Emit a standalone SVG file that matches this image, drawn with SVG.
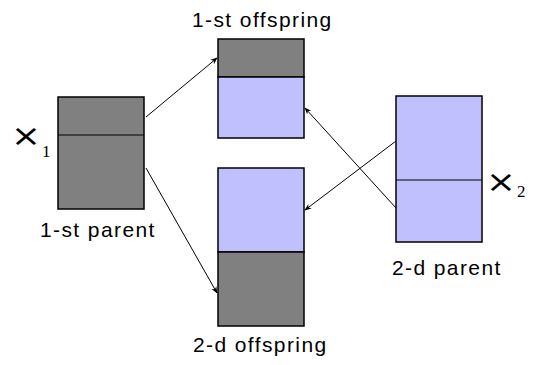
<svg xmlns="http://www.w3.org/2000/svg" width="537" height="365" viewBox="0 0 537 365">
  <style>
    .gray { fill: #808080; stroke: #000; stroke-width: 1.5; }
    .blue { fill: #c0c0ff; stroke: #000; stroke-width: 1.5; }
    .div { stroke: #000; stroke-width: 1; }
    .lbl { font-family: "Liberation Sans", Arial, sans-serif; font-size: 21px; letter-spacing: 1.4px; fill: #000; }
    .sym { font-family: "DejaVu Sans", sans-serif; font-size: 31px; fill: #000; }
    .sub { font-family: "Liberation Serif", serif; font-size: 17px; fill: #000; }
    .conn { stroke: #000; stroke-width: 1; fill: none; marker-end: url(#ah); }
  </style>
  <defs>
    <marker id="ah" viewBox="0 0 10 10" refX="9" refY="5" markerWidth="7" markerHeight="7" orient="auto" markerUnits="userSpaceOnUse">
      <path d="M0,1 L10,5 L0,9 L3,5 Z" fill="#000"/>
    </marker>
  </defs>
  <rect width="537" height="365" fill="#fff"/>

  <g id="parent1">
    <rect class="gray" x="58" y="97" width="86" height="112"/>
    <line class="div" x1="58" y1="135" x2="144" y2="135"/>
    <text class="sym" transform="translate(11,146) scale(1.15,1)">×</text>
    <text class="sub" x="42" y="157">1</text>
    <text class="lbl" x="40" y="237">1-st parent</text>
  </g>

  <g id="offspring1">
    <rect class="gray" x="218" y="39" width="86" height="38"/>
    <rect class="blue" x="218" y="77" width="86" height="61"/>
    <text class="lbl" x="192" y="27">1-st offspring</text>
  </g>

  <g id="offspring2">
    <rect class="blue" x="218" y="168" width="86" height="84"/>
    <rect class="gray" x="218" y="252" width="86" height="74"/>
    <text class="lbl" x="193" y="352">2-d offspring</text>
  </g>

  <g id="parent2">
    <rect class="blue" x="396" y="96" width="86" height="146"/>
    <line class="div" x1="396" y1="180" x2="482" y2="180"/>
    <text class="sym" transform="translate(486,192) scale(1.15,1)">×</text>
    <text class="sub" x="517" y="197">2</text>
    <text class="lbl" x="392" y="275">2-d parent</text>
  </g>

  <g id="connectors">
    <line class="conn" x1="146" y1="117" x2="217" y2="58"/>
    <line class="conn" x1="146" y1="168" x2="217" y2="293"/>
    <line class="conn" x1="396" y1="208" x2="305" y2="108"/>
    <line class="conn" x1="396" y1="141" x2="305" y2="210"/>
  </g>
</svg>
